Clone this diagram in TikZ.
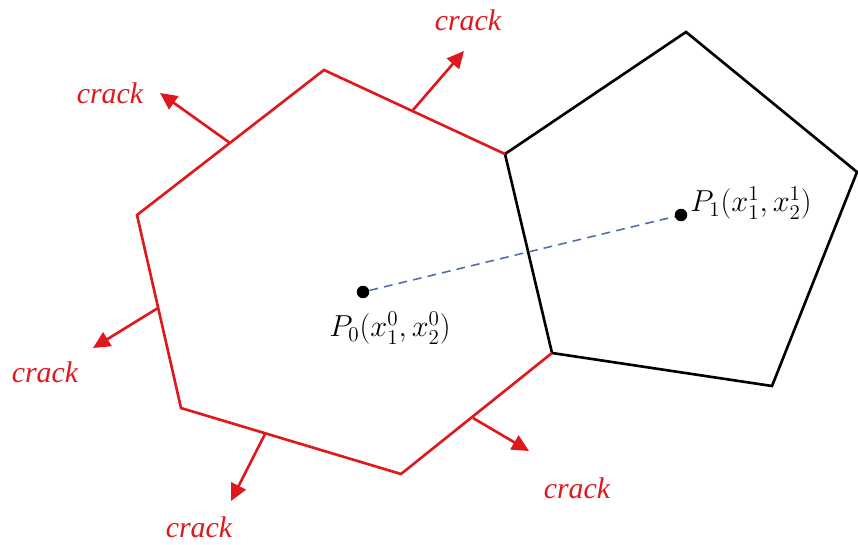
\documentclass[tikz,border=0pt]{standalone}
\usepackage{fontspec}
\setmainfont{Liberation Serif}
\usetikzlibrary{arrows.meta}
\definecolor{crkRed}{RGB}{222,24,28}
\definecolor{linkBlue}{RGB}{80,110,175}

\begin{document}
\begin{tikzpicture}[x=0.02cm, y=-0.02cm,
      redline/.style={draw=crkRed, line width=1.5pt, line join=miter},
      blkline/.style={draw=black, line width=1.5pt, line join=miter},
      crackarr/.style={draw=crkRed, line width=1.5pt,
        -{Triangle[length=3.4mm, width=3.2mm]}},
      cracklbl/.style={text=crkRed, font=\fontsize{17}{17}\selectfont\itshape,
        inner sep=0pt},
      ptdot/.style={circle, fill=black, minimum size=2.5mm, inner sep=0pt},
      ptlbl/.style={font=\fontsize{16.5}{16.5}\selectfont, inner sep=0pt},
      link/.style={draw=linkBlue, line width=0.9pt, dash pattern=on 5pt off 3.5pt},
    ]
    \useasboundingbox (0,0) rectangle (858,544);
    % ---- vertices of the two cells ----
    \coordinate (hA) at (324,70);
    \coordinate (hB) at (505,154);
    \coordinate (hC) at (552,353);
    \coordinate (hD) at (401,474);
    \coordinate (hE) at (181,408);
    \coordinate (hF) at (137,215);
    \coordinate (pG) at (686,32);
    \coordinate (pH) at (857,172);
    \coordinate (pI) at (772,386);

    % ---- neighbour cell (black) ----
    \draw[blkline] (hB) -- (pG) -- (pH) -- (pI) -- (hC) -- cycle;
    % ---- cracked cell (red) ----
    \draw[redline] (hC) -- (hD) -- (hE) -- (hF) -- (hA) -- (hB);

    % ---- crack arrows ----
    \coordinate (c1s) at (230,143); \coordinate (c1e) at (160,93);
    \coordinate (c2s) at (413,110); \coordinate (c2e) at (464,51);
    \coordinate (c3s) at (158,308); \coordinate (c3e) at (93,348);
    \coordinate (c4s) at (265,434); \coordinate (c4e) at (231,501);
    \coordinate (c5s) at (473,418); \coordinate (c5e) at (529,451);
    \foreach \i in {1,...,5}
      \draw[crackarr] (c\i s) -- (c\i e);

    \node[cracklbl] (k1) at (110,93) {crack};
    \node[cracklbl] (k2) at (468,20) {crack};
    \node[cracklbl] (k3) at (45,372) {crack};
    \node[cracklbl] (k4) at (199,527) {crack};
    \node[cracklbl] (k5) at (577,488) {crack};

    % ---- cell centres ----
    \node[ptdot] (p0) at (363,292) {};
    \node[ptdot] (p1) at (681,215) {};
    \draw[link] (p0) -- (p1);
    \node[ptlbl] (p0lbl) at (390,328) {$P_0(x_1^0,x_2^0)$};
    \node[ptlbl] (p1lbl) at (751,203) {$P_1(x_1^1,x_2^1)$};
  \end{tikzpicture}
\end{document}
